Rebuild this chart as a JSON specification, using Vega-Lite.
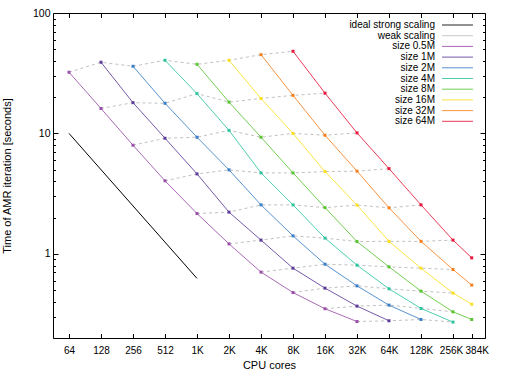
{
  "$schema": "https://vega.github.io/schema/vega-lite/v6.json",
  "width": 432,
  "height": 325,
  "autosize": "none",
  "padding": {"left": 53, "top": 13, "right": 21, "bottom": 36},
  "background": "white",
  "config": {
    "font": "Liberation Sans",
    "view": {"stroke": null},
    "axis": {
      "labelFont": "Liberation Sans", "labelFontSize": 10.5, "labelColor": "black",
      "titleFont": "Liberation Sans", "titleFontSize": 11, "titleFontWeight": "normal", "titleColor": "black",
      "domainColor": "black", "tickColor": "black", "grid": false, "tickWidth": 1, "domainWidth": 1,
      "labelOverlap": false, "labelFlush": false
    },
    "legend": {"labelFont": "Liberation Sans", "labelFontSize": 10, "labelColor": "black"}
  },
  "datasets": {
    "ideal": [{"c": 64, "t": 10}, {"c": 1024, "t": 0.625}],
    "pts": [
      {"c": 64, "t": 32.2, "s": "size 0.5M", "w": 0},
      {"c": 128, "t": 16.1, "s": "size 0.5M", "w": 1},
      {"c": 256, "t": 7.98, "s": "size 0.5M", "w": 2},
      {"c": 512, "t": 4.04, "s": "size 0.5M", "w": 3},
      {"c": 1024, "t": 2.16, "s": "size 0.5M", "w": 4},
      {"c": 2048, "t": 1.21, "s": "size 0.5M", "w": 5},
      {"c": 4096, "t": 0.705, "s": "size 0.5M", "w": 6},
      {"c": 8192, "t": 0.477, "s": "size 0.5M", "w": 7},
      {"c": 16384, "t": 0.35, "s": "size 0.5M", "w": 8},
      {"c": 32768, "t": 0.274, "s": "size 0.5M", "w": 9},
      {"c": 128, "t": 39.0, "s": "size 1M", "w": 0},
      {"c": 256, "t": 18.0, "s": "size 1M", "w": 1},
      {"c": 512, "t": 9.12, "s": "size 1M", "w": 2},
      {"c": 1024, "t": 4.61, "s": "size 1M", "w": 3},
      {"c": 2048, "t": 2.22, "s": "size 1M", "w": 4},
      {"c": 4096, "t": 1.30, "s": "size 1M", "w": 5},
      {"c": 8192, "t": 0.76, "s": "size 1M", "w": 6},
      {"c": 16384, "t": 0.519, "s": "size 1M", "w": 7},
      {"c": 32768, "t": 0.368, "s": "size 1M", "w": 8},
      {"c": 65536, "t": 0.278, "s": "size 1M", "w": 9},
      {"c": 256, "t": 36.1, "s": "size 2M", "w": 0},
      {"c": 512, "t": 17.8, "s": "size 2M", "w": 1},
      {"c": 1024, "t": 9.3, "s": "size 2M", "w": 2},
      {"c": 2048, "t": 4.98, "s": "size 2M", "w": 3},
      {"c": 4096, "t": 2.55, "s": "size 2M", "w": 4},
      {"c": 8192, "t": 1.41, "s": "size 2M", "w": 5},
      {"c": 16384, "t": 0.82, "s": "size 2M", "w": 6},
      {"c": 32768, "t": 0.542, "s": "size 2M", "w": 7},
      {"c": 65536, "t": 0.375, "s": "size 2M", "w": 8},
      {"c": 131072, "t": 0.285, "s": "size 2M", "w": 9},
      {"c": 512, "t": 40.5, "s": "size 4M", "w": 0},
      {"c": 1024, "t": 21.4, "s": "size 4M", "w": 1},
      {"c": 2048, "t": 10.6, "s": "size 4M", "w": 2},
      {"c": 4096, "t": 4.70, "s": "size 4M", "w": 3},
      {"c": 8192, "t": 2.55, "s": "size 4M", "w": 4},
      {"c": 16384, "t": 1.35, "s": "size 4M", "w": 5},
      {"c": 32768, "t": 0.805, "s": "size 4M", "w": 6},
      {"c": 65536, "t": 0.512, "s": "size 4M", "w": 7},
      {"c": 131072, "t": 0.352, "s": "size 4M", "w": 8},
      {"c": 262144, "t": 0.271, "s": "size 4M", "w": 9},
      {"c": 1024, "t": 37.5, "s": "size 8M", "w": 0},
      {"c": 2048, "t": 18.2, "s": "size 8M", "w": 1},
      {"c": 4096, "t": 9.3, "s": "size 8M", "w": 2},
      {"c": 8192, "t": 4.70, "s": "size 8M", "w": 3},
      {"c": 16384, "t": 2.42, "s": "size 8M", "w": 4},
      {"c": 32768, "t": 1.265, "s": "size 8M", "w": 5},
      {"c": 65536, "t": 0.78, "s": "size 8M", "w": 6},
      {"c": 131072, "t": 0.49, "s": "size 8M", "w": 7},
      {"c": 262144, "t": 0.33, "s": "size 8M", "w": 8},
      {"c": 393216, "t": 0.285, "s": "size 8M"},
      {"c": 2048, "t": 40.5, "s": "size 16M", "w": 0},
      {"c": 4096, "t": 19.5, "s": "size 16M", "w": 1},
      {"c": 8192, "t": 10.0, "s": "size 16M", "w": 2},
      {"c": 16384, "t": 4.82, "s": "size 16M", "w": 3},
      {"c": 32768, "t": 2.54, "s": "size 16M", "w": 4},
      {"c": 65536, "t": 1.27, "s": "size 16M", "w": 5},
      {"c": 131072, "t": 0.76, "s": "size 16M", "w": 6},
      {"c": 262144, "t": 0.472, "s": "size 16M", "w": 7},
      {"c": 393216, "t": 0.382, "s": "size 16M"},
      {"c": 4096, "t": 45.1, "s": "size 32M", "w": 0},
      {"c": 8192, "t": 20.7, "s": "size 32M", "w": 1},
      {"c": 16384, "t": 9.66, "s": "size 32M", "w": 2},
      {"c": 32768, "t": 4.86, "s": "size 32M", "w": 3},
      {"c": 65536, "t": 2.41, "s": "size 32M", "w": 4},
      {"c": 131072, "t": 1.27, "s": "size 32M", "w": 5},
      {"c": 262144, "t": 0.741, "s": "size 32M", "w": 6},
      {"c": 393216, "t": 0.55, "s": "size 32M"},
      {"c": 8192, "t": 48.1, "s": "size 64M", "w": 0},
      {"c": 16384, "t": 21.6, "s": "size 64M", "w": 1},
      {"c": 32768, "t": 10.1, "s": "size 64M", "w": 2},
      {"c": 65536, "t": 5.1, "s": "size 64M", "w": 3},
      {"c": 131072, "t": 2.55, "s": "size 64M", "w": 4},
      {"c": 262144, "t": 1.30, "s": "size 64M", "w": 5},
      {"c": 393216, "t": 0.926, "s": "size 64M"}
    ]
  },
  "layer": [
    {
      "data": {"name": "ideal"},
      "mark": {"type": "line", "strokeWidth": 1},
      "encoding": {
        "x": {"field": "c", "type": "quantitative",
          "scale": {"type": "log", "base": 2, "domain": [45.2548, 524288], "nice": false},
          "axis": {"orient": "top", "labels": false, "title": null, "domain": true, "tickSize": -4.5,
            "values": [64,128,256,512,1024,2048,4096,8192,16384,32768,65536,131072,262144,393216]}},
        "y": {"field": "t", "type": "quantitative",
          "scale": {"type": "log", "domain": [0.2, 100], "nice": false},
          "axis": {"orient": "right", "labels": false, "title": null, "domain": true,
            "values": [0.2,0.3,0.4,0.5,0.6,0.7,0.8,0.9,1,2,3,4,5,6,7,8,9,10,20,30,40,50,60,70,80,90,100],
            "tickSize": {"condition": {"test": "datum.value == 1 || datum.value == 10 || datum.value == 100", "value": -5}, "value": -2.5}}},
        "color": {"datum": "ideal strong scaling", "type": "nominal"}
      }
    },
    {
      "data": {"name": "pts"},
      "transform": [{"filter": "isValid(datum.w)"}],
      "mark": {"type": "line", "strokeWidth": 1, "strokeDash": [3, 3]},
      "encoding": {
        "x": {"field": "c", "type": "quantitative", "axis": null},
        "y": {"field": "t", "type": "quantitative", "axis": null},
        "color": {"datum": "weak scaling", "type": "nominal"},
        "detail": {"field": "w", "type": "nominal"}
      }
    },
    {
      "data": {"name": "pts"},
      "mark": {"type": "line", "strokeWidth": 1, "opacity": 0.85},
      "encoding": {
        "x": {"field": "c", "type": "quantitative", "title": "CPU cores",
          "axis": {"orient": "bottom", "tickSize": -4.5, "labelPadding": 12, "titlePadding": 4, "labelFontSize": 10,
            "values": [64,128,256,512,1024,2048,4096,8192,16384,32768,65536,131072,262144,393216],
            "labelOffset": {"condition": [{"test": "datum.value == 393216", "value": 5}, {"test": "datum.value == 262144", "value": -2}], "value": 0},
            "labelExpr": "datum.value >= 1024 ? (datum.value / 1024) + 'K' : datum.value + ''"}},
        "y": {"field": "t", "type": "quantitative", "title": "Time of AMR iteration [seconds]",
          "axis": {"orient": "left", "labelPadding": 8, "titlePadding": 20,
            "values": [0.2,0.3,0.4,0.5,0.6,0.7,0.8,0.9,1,2,3,4,5,6,7,8,9,10,20,30,40,50,60,70,80,90,100],
            "tickSize": {"condition": {"test": "datum.value == 1 || datum.value == 10 || datum.value == 100", "value": -5}, "value": -2.5},
            "labelExpr": "datum.value == 1 || datum.value == 10 || datum.value == 100 ? format(datum.value, 'd') : ''"}},
        "color": {"field": "s", "type": "nominal",
          "scale": {
            "domain": ["ideal strong scaling", "weak scaling", "size 0.5M", "size 1M", "size 2M", "size 4M", "size 8M", "size 16M", "size 32M", "size 64M"],
            "range": ["#000000", "#c0c0c0", "#9a50a8", "#5e3c99", "#3a7fc8", "#2ec4a0", "#5ac432", "#f8e020", "#f8801e", "#e8183c"]},
          "legend": {"title": null, "orient": "none", "legendX": 399.5, "legendY": 7, "padding": 0,
            "rowPadding": 0.7, "symbolSize": 81, "symbolStrokeWidth": 1,
            "symbolType": "M-3.44,0H3.44", "symbolOffset": 0, "labelAlign": "right", "labelOffset": -27.5,
            "labelFontSize": 10, "labelLimit": 200,
            "encode": {"symbols": {
              "shape": {"value": {"expr": "datum.value == 'ideal strong scaling' || datum.value == 'weak scaling' ? 'M-3.44,0H3.44' : 'M-3.44,0H3.44M-0.33,-0.33H0.33V0.33H-0.33Z'"}},
              "strokeDash": {"value": {"expr": "datum.value == 'weak scaling' ? [1.5, 2.5] : [1, 0]"}},
              "stroke": {"value": {"expr": "scale('color', datum.value)"}},
              "fill": {"value": {"expr": "datum.value == 'ideal strong scaling' || datum.value == 'weak scaling' ? 'transparent' : scale('color', datum.value)"}},
              "strokeOpacity": {"value": 0.6},
              "opacity": {"value": 1}
            }}}
        },
        "detail": {"field": "s", "type": "nominal"}
      }
    },
    {
      "data": {"name": "pts"},
      "mark": {"type": "point", "filled": true, "shape": "square", "size": 9, "opacity": 1},
      "encoding": {
        "x": {"field": "c", "type": "quantitative", "axis": null},
        "y": {"field": "t", "type": "quantitative", "axis": null},
        "color": {"field": "s", "type": "nominal"}
      }
    }
  ],
  "resolve": {"axis": {"x": "independent", "y": "independent"}}
}
